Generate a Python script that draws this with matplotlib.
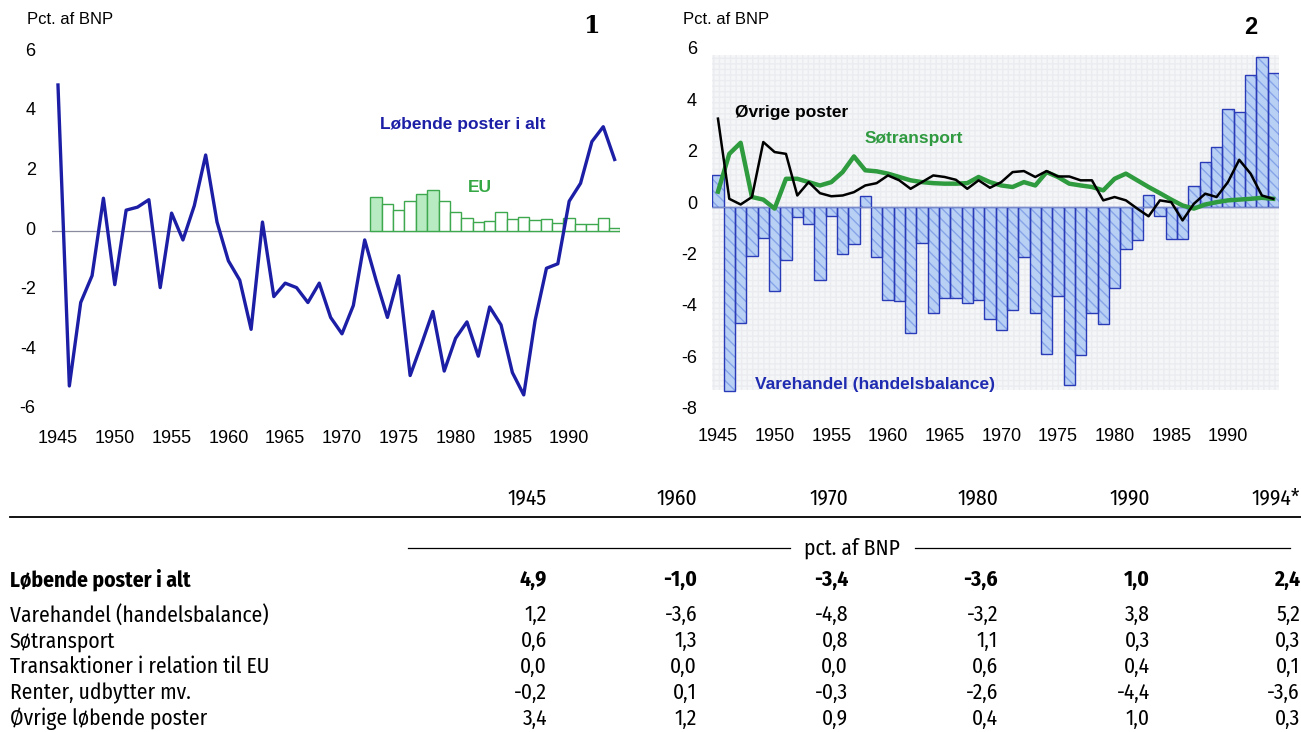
import matplotlib
matplotlib.use("Agg")
import matplotlib.pyplot as plt
from matplotlib.transforms import ScaledTranslation

plt.rcParams["font.family"] = ["Liberation Sans", "DejaVu Sans"]
plt.rcParams["hatch.linewidth"] = 1.0

# **Data**
years = list(range(1945, 1995))

# chart 1: current account total (pct. of GDP)
total = [4.9, -5.2, -2.4, -1.5, 1.1, -1.8, 0.7, 0.8, 1.05, -1.9,
         0.6, -0.3, 0.85, 2.55, 0.3, -1.0, -1.65, -3.3, 0.3, -2.2,
         -1.75, -1.9, -2.4, -1.75, -2.9, -3.45, -2.5, -0.3, -1.65, -2.9,
         -1.5, -4.85, -3.8, -2.7, -4.7, -3.6, -3.05, -4.2, -2.55, -3.15,
         -4.75, -5.5, -3.0, -1.25, -1.1, 1.0, 1.6, 3.0, 3.5, 2.4]

eu_years = list(range(1973, 1995))
eu = [1.15, 0.9, 0.7, 1.0, 1.25, 1.38, 1.02, 0.63, 0.43, 0.31, 0.35,
      0.65, 0.4, 0.48, 0.37, 0.4, 0.26, 0.42, 0.22, 0.22, 0.43, 0.11]
eu_filled = [1973, 1977, 1978]

# chart 2: components
varehandel = [1.25, -7.15, -4.5, -1.9, -1.2, -3.25, -2.07, -0.4, -0.65, -2.82,
              -0.36, -1.84, -1.42, 0.42, -1.95, -3.6, -3.66, -4.9, -1.4, -4.12,
              -3.54, -3.54, -3.73, -3.6, -4.34, -4.8, -4.0, -1.95, -4.12, -5.7,
              -3.48, -6.94, -5.77, -4.12, -4.57, -3.15, -1.62, -1.3, 0.45, -0.36,
              -1.23, -1.23, 0.8, 1.75, 2.33, 3.8, 3.7, 5.12, 5.84, 5.2]

soetransport = [0.6, 2.07, 2.5, 0.39, 0.29, -0.06, 1.1, 1.1, 0.97, 0.84,
                0.97, 1.36, 1.97, 1.43, 1.39, 1.3, 1.17, 1.04, 0.97, 0.93,
                0.91, 0.91, 0.93, 1.17, 0.97, 0.84, 0.78, 0.97, 0.84, 1.36,
                1.17, 0.91, 0.84, 0.78, 0.65, 1.1, 1.3, 1.04, 0.78, 0.54,
                0.29, 0.06, -0.06, 0.1, 0.19, 0.26, 0.29, 0.32, 0.36, 0.32]

oevrige = [3.44, 0.32, 0.1, 0.39, 2.53, 2.14, 2.07, 0.45, 0.97, 0.54,
           0.42, 0.45, 0.58, 0.84, 0.93, 1.23, 1.04, 0.71, 0.97, 1.23,
           1.17, 1.06, 0.71, 1.04, 0.75, 0.97, 1.36, 1.4, 1.17, 1.4,
           1.19, 1.19, 1.04, 1.04, 0.26, 0.39, 0.26, -0.06, -0.36, 0.26,
           0.19, -0.52, 0.13, 0.52, 0.39, 0.97, 1.84, 1.3, 0.45, 0.32]

# table
table_years = ["1945", "1960", "1970", "1980", "1990", "1994*"]
row_labels = ["Løbende poster i alt", "Varehandel (handelsbalance)", "Søtransport",
              "Transaktioner i relation til EU", "Renter, udbytter mv.",
              "Øvrige løbende poster"]
row_values = [
    ["4,9", "-1,0", "-3,4", "-3,6", "1,0", "2,4"],
    ["1,2", "-3,6", "-4,8", "-3,2", "3,8", "5,2"],
    ["0,6", "1,3", "0,8", "1,1", "0,3", "0,3"],
    ["0,0", "0,0", "0,0", "0,6", "0,4", "0,1"],
    ["-0,2", "0,1", "-0,3", "-2,6", "-4,4", "-3,6"],
    ["3,4", "1,2", "0,9", "0,4", "1,0", "0,3"],
]

W, H = 1301, 732


def fx(px):
    return px / W


def fy(py):
    return 1 - py / H


fig = plt.figure(figsize=(W / 100, H / 100), dpi=100)

navy = "#1c1fa6"
green = "#2e9b3e"

# **Chart 1**
ax1 = fig.add_axes([fx(52.3), fy(424.7), 568 / W, 387.4 / H])
ax1.set_xlim(1944.5, 1994.5)
ax1.set_ylim(-6.5, 6.5)
ax1.axhline(0, color="#8a8aa0", lw=0.9, zorder=1)
eu_face = ["#b8ebc2" if y in eu_filled else "white" for y in eu_years]
ax1.bar(eu_years, eu, width=1.0, color=eu_face, edgecolor="#3da84e", lw=1.0, zorder=2)
ax1.plot(years, total, color=navy, lw=2.4, zorder=3)
ax1.set_yticks([-6, -4, -2, 0, 2, 4, 6])
ax1.set_yticklabels(["-6", "-4", "-2", "0", "2", "4", "6"])
ax1.set_xticks(range(1945, 1995, 5))
ax1.tick_params(axis="y", length=0, pad=12, labelsize=13)
ax1.tick_params(axis="x", length=0, pad=4, labelsize=13)
for s in ax1.spines.values():
    s.set_visible(False)
ax1.patch.set_alpha(0)
# labels sit a little above their gridline in the print
up1 = ScaledTranslation(0, 3 / 100, fig.dpi_scale_trans)
for lab in ax1.get_yticklabels():
    lab.set_transform(lab.get_transform() + up1)

fig.text(fx(27), fy(20), "Pct. af BNP", fontsize=12, ha="left", va="center")
fig.text(fx(591), fy(26), "1", fontsize=17, fontweight="bold", family="DejaVu Serif",
         ha="center", va="center")
fig.text(fx(380), fy(125), "Løbende poster i alt", fontsize=12.5, fontweight="bold",
         color=navy, ha="left", va="center")
fig.text(fx(468), fy(187), "EU", fontsize=12.5, fontweight="bold", color="#35a845",
         ha="left", va="center")

# **Chart 2**
ax2 = fig.add_axes([fx(712.3), fy(425.5), 566.6 / W, 385.5 / H])
ax2.set_xlim(1944.5, 1994.5)
ax2.set_ylim(-8.5, 6.5)
ax2.axhspan(-7.1, 5.9, facecolor="#f5f6f8", edgecolor="#ebecf0", hatch="+++", lw=0, zorder=0)
ax2.bar(years, varehandel, width=1.0, color="#b9d0f5", edgecolor="#86a4e8",
        hatch="\\\\\\", lw=0, zorder=1)
ax2.bar(years, varehandel, width=1.0, fill=False, edgecolor="#2a3bb8", lw=1.0, zorder=2)
ax2.axhline(0, color="#7a8cc8", lw=0.8, zorder=2)
ax2.plot(years, soetransport, color=green, lw=3.2, zorder=3)
ax2.plot(years, oevrige, color="black", lw=1.8, zorder=4)
ax2.set_yticks([-8, -6, -4, -2, 0, 2, 4, 6])
ax2.set_yticklabels(["-8", "-6", "-4", "-2", "0", "2", "4", "6"])
ax2.set_xticks(range(1945, 1995, 5))
ax2.tick_params(axis="y", length=0, pad=11, labelsize=13)
ax2.tick_params(axis="x", length=0, pad=2, labelsize=13)
for s in ax2.spines.values():
    s.set_visible(False)
ax2.patch.set_alpha(0)
up2 = ScaledTranslation(0, 5 / 100, fig.dpi_scale_trans)
for lab in ax2.get_yticklabels():
    lab.set_transform(lab.get_transform() + up2)

fig.text(fx(683), fy(20), "Pct. af BNP", fontsize=12, ha="left", va="center")
fig.text(fx(1251), fy(28), "2", fontsize=17, fontweight="bold", ha="center", va="center")
fig.text(fx(735), fy(113), "Øvrige poster", fontsize=12.5, fontweight="bold",
         color="black", ha="left", va="center")
fig.text(fx(865), fy(139), "Søtransport", fontsize=12.5, fontweight="bold",
         color="#2f9a40", ha="left", va="center")
fig.text(fx(755), fy(384), "Varehandel (handelsbalance)", fontsize=12.5, fontweight="bold",
         color="#1f2bb0", ha="left", va="center")

# **Table** (narrow grotesque like the print original)
tfont = ["Fira Sans Condensed", "DejaVu Sans"]
tsize = 15.5
col_right = [547, 697, 848, 998, 1150, 1300]
for yr, xr in zip(table_years, col_right):
    fig.text(fx(xr), fy(498), yr, fontsize=tsize, family=tfont, ha="right", va="center")

fig.add_artist(plt.Line2D([fx(10), fx(1301)], [fy(517), fy(517)], color="black", lw=1.3))
fig.add_artist(plt.Line2D([fx(408), fx(790)], [fy(548), fy(548)], color="black", lw=0.9))
fig.add_artist(plt.Line2D([fx(915), fx(1290)], [fy(548), fy(548)], color="black", lw=0.9))
fig.text(fx(852), fy(548), "pct. af BNP", fontsize=tsize, family=tfont, ha="center", va="center")

row_y = [580, 615, 641, 667, 693, 719]
for i, (lab, vals) in enumerate(zip(row_labels, row_values)):
    wt = "bold" if i == 0 else "normal"
    fig.text(fx(10), fy(row_y[i]), lab, fontsize=tsize, family=tfont, fontweight=wt,
             ha="left", va="center")
    for v, xr in zip(vals, col_right):
        fig.text(fx(xr), fy(row_y[i]), v, fontsize=tsize, family=tfont, fontweight=wt,
                 ha="right", va="center")

fig.savefig("out.png", dpi=100)
